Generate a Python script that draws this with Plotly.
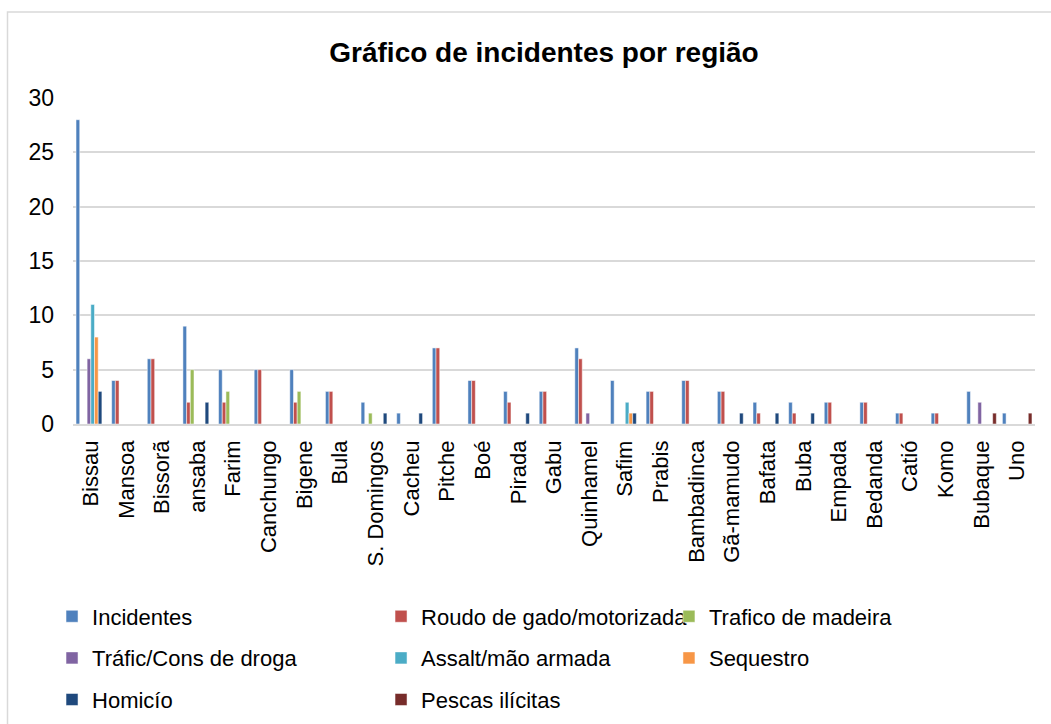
import plotly.graph_objects as go

regioes = ["Bissau", "Mansoa", "Bissorã", "ansaba", "Farim", "Canchungo", "Bigene", "Bula",
           "S. Domingos", "Cacheu", "Pitche", "Boé", "Pirada", "Gabu", "Quinhamel", "Safim",
           "Prabis", "Bambadinca", "Gã-mamudo", "Bafata", "Buba", "Empada", "Bedanda", "Catió",
           "Komo", "Bubaque", "Uno"]

incidentes = [28, 4, 6, 9, 5, 5, 5, 3, 2, 1, 7, 4, 3, 3, 7, 4, 3, 4, 3, 2, 2, 2, 2, 1, 1, 3, 1]
roudo      = [0, 4, 6, 2, 2, 5, 2, 3, 0, 0, 7, 4, 2, 3, 6, 0, 3, 4, 3, 1, 1, 2, 2, 1, 1, 0, 0]
madeira    = [0, 0, 0, 5, 3, 0, 3, 0, 1, 0, 0, 0, 0, 0, 0, 0, 0, 0, 0, 0, 0, 0, 0, 0, 0, 0, 0]
droga      = [6, 0, 0, 0, 0, 0, 0, 0, 0, 0, 0, 0, 0, 0, 1, 0, 0, 0, 0, 0, 0, 0, 0, 0, 0, 2, 0]
assalto    = [11, 0, 0, 0, 0, 0, 0, 0, 0, 0, 0, 0, 0, 0, 0, 2, 0, 0, 0, 0, 0, 0, 0, 0, 0, 0, 0]
sequestro  = [8, 0, 0, 0, 0, 0, 0, 0, 0, 0, 0, 0, 0, 0, 0, 1, 0, 0, 0, 0, 0, 0, 0, 0, 0, 0, 0]
homicidio  = [3, 0, 0, 2, 0, 0, 0, 0, 1, 1, 0, 0, 1, 0, 0, 1, 0, 0, 1, 1, 1, 0, 0, 0, 0, 0, 0]
pescas     = [0, 0, 0, 0, 0, 0, 0, 0, 0, 0, 0, 0, 0, 0, 0, 0, 0, 0, 0, 0, 0, 0, 0, 0, 0, 1, 1]

series_names = ["Incidentes", "Roudo de gado/motorizada", "Trafico de madeira",
                "Tráfic/Cons de droga", "Assalt/mão armada", "Sequestro",
                "Homicío", "Pescas ilícitas"]
series_values = [incidentes, roudo, madeira, droga, assalto, sequestro, homicidio, pescas]
colors = ["#4F81BD", "#C0504D", "#9BBB59", "#8064A2", "#4BACC6", "#F79646", "#1F497D", "#772C2A"]
legend_ids = ["legend", "legend2", "legend3", "legend", "legend2", "legend3", "legend", "legend2"]

FONT = "Liberation Sans, Arial, sans-serif"

fig = go.Figure()
for i, (name, vals) in enumerate(zip(series_names, series_values)):
    fig.add_trace(go.Bar(
        x=regioes, y=vals, name=name,
        marker=dict(color=colors[i], line=dict(color="white", width=0.5)),
        legend=legend_ids[i], legendgroup=f"g{i}",
    ))

leg_common = dict(orientation="v", traceorder="grouped", tracegroupgap=10,
                  font=dict(family=FONT, size=22, color="#000000"),
                  bgcolor="rgba(0,0,0,0)", yanchor="top", xanchor="left",
                  itemclick=False, itemdoubleclick=False)

LEG_Y = -0.526

fig.update_layout(
    width=1051, height=724,
    margin=dict(l=73, r=16, t=98, b=300, autoexpand=False),
    paper_bgcolor="white", plot_bgcolor="white",
    barmode="group", bargap=0.17, bargroupgap=0,
    title=dict(text="<b>Gráfico de incidentes por região</b>",
               font=dict(family=FONT, size=28, color="#000000"),
               x=544 / 1051, xanchor="center", xref="container",
               y=1 - 52 / 724, yanchor="middle", yref="container"),
    legend=dict(x=-0.0218, y=LEG_Y, **leg_common),
    legend2=dict(x=0.3202, y=LEG_Y, **leg_common),
    legend3=dict(x=0.6195, y=LEG_Y, **leg_common),
    xaxis=dict(type="category", tickangle=-90, showgrid=False,
               tickfont=dict(family=FONT, size=22, color="#000000"),
               showline=True, linecolor="#D9D9D9", linewidth=1.5,
               ticks="", ticklabelstandoff=6, automargin=False),
    yaxis=dict(range=[0, 30], tickvals=[0, 5, 10, 15, 20, 25, 30],
               showgrid=True, gridcolor="#D9D9D9", gridwidth=1.5,
               zeroline=False, showline=False,
               tickfont=dict(family=FONT, size=23, color="#000000"),
               ticks="", ticklabelstandoff=18, automargin=False),
    showlegend=True,
    shapes=[dict(type="rect", xref="paper", yref="paper",
                 x0=(7.5 - 73) / 962, x1=(1060 - 73) / 962,
                 y0=(424 - 740) / 326, y1=(424 - 12) / 326,
                 line=dict(color="#D9D9D9", width=1.5), fillcolor="rgba(0,0,0,0)",
                 layer="below")],
)

fig.write_html("out.html", config={"displayModeBar": False},
               post_script="document.body.style.margin='0px';")
